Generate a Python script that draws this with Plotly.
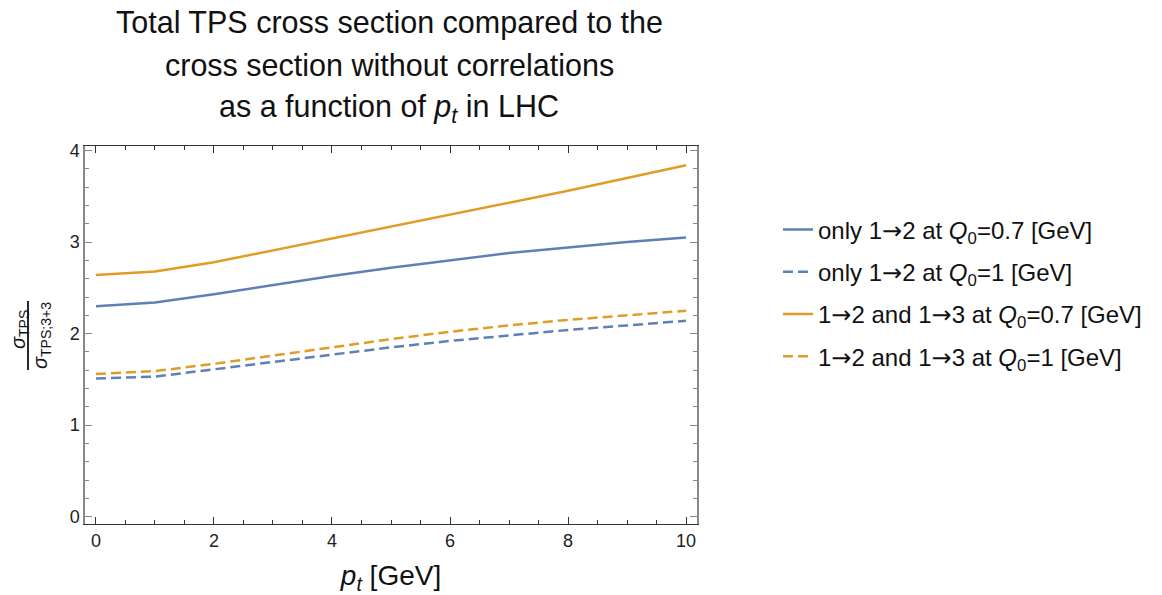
import plotly.graph_objects as go

pt = [0, 1, 2, 3, 4, 5, 6, 7, 8, 9, 10]
only12_q07 = [2.30, 2.34, 2.43, 2.53, 2.63, 2.72, 2.80, 2.88, 2.94, 3.00, 3.05]
only12_q1 = [1.51, 1.53, 1.61, 1.69, 1.77, 1.85, 1.92, 1.98, 2.04, 2.09, 2.14]
both_q07 = [2.64, 2.68, 2.78, 2.91, 3.04, 3.17, 3.30, 3.43, 3.56, 3.70, 3.84]
both_q1 = [1.56, 1.59, 1.67, 1.76, 1.85, 1.94, 2.02, 2.09, 2.15, 2.20, 2.25]

ARROW = '<span style="font-family:DejaVu Sans">→</span>'
names = [
    f"only 1{ARROW}2 at <i>Q</i><sub>0</sub>=0.7 [GeV]",
    f"only 1{ARROW}2 at <i>Q</i><sub>0</sub>=1 [GeV]",
    f"1{ARROW}2 and 1{ARROW}3 at <i>Q</i><sub>0</sub>=0.7 [GeV]",
    f"1{ARROW}2 and 1{ARROW}3 at <i>Q</i><sub>0</sub>=1 [GeV]",
]
series = [only12_q07, only12_q1, both_q07, both_q1]
BLUE = "#5E81B5"
ORANGE = "#E19C24"
colors = [BLUE, BLUE, ORANGE, ORANGE]
dashes = ["solid", "10px,5px", "solid", "10px,5px"]

FONT = "Liberation Sans, Arial, sans-serif"
W, H = 1162, 595
ML, MR, MT, MB = 85, 465, 146, 71
PW = W - ML - MR
PH = H - MT - MB


def px_x(px):
    return (px - ML) / PW


def px_y(py):
    return 1 - (py - MT) / PH


fig = go.Figure()
for i, (nm, ys, c, d) in enumerate(zip(names, series, colors, dashes)):
    fig.add_trace(go.Scatter(
        x=pt, y=ys, mode="lines", name=nm, legendgroup=f"g{i}",
        line=dict(color=c, width=2.5, dash=d),
    ))

annotations = []
title_lines = [
    ("Total TPS cross section compared to the", 22),
    ("cross section without correlations", 65),
    ("as a function of <i>p<sub>t</sub></i> in LHC", 108),
]
for txt, yy in title_lines:
    annotations.append(dict(
        text=txt, xref="paper", yref="paper", x=px_x(389), y=px_y(yy),
        xanchor="center", yanchor="middle", showarrow=False,
        font=dict(family=FONT, size=30.5, color="#111"),
    ))

annotations.append(dict(
    text="<i>σ</i><sub>TPS</sub>", xref="paper", yref="paper",
    x=px_x(19), y=px_y(330), xanchor="center", yanchor="middle",
    textangle=-90, showarrow=False, font=dict(family=FONT, size=20, color="#111"),
))
annotations.append(dict(
    text="<i>σ</i><sub>TPS;3+3</sub>", xref="paper", yref="paper",
    x=px_x(41), y=px_y(336), xanchor="center", yanchor="middle",
    textangle=-90, showarrow=False, font=dict(family=FONT, size=20, color="#111"),
))

shapes = [dict(
    type="line", xref="paper", yref="paper",
    x0=px_x(28), x1=px_x(28), y0=px_y(301), y1=px_y(370),
    line=dict(color="#111", width=1.8),
)]

fig.update_layout(
    width=W, height=H, autosize=False,
    margin=dict(l=ML, r=MR, t=MT, b=MB, autoexpand=False),
    paper_bgcolor="white", plot_bgcolor="white",
    font=dict(family=FONT, size=17, color="#222"),
    showlegend=True,
    legend=dict(
        x=px_x(778), y=px_y(293), xanchor="left", yanchor="middle",
        font=dict(family=FONT, size=24, color="#111"),
        tracegroupgap=8, bgcolor="rgba(0,0,0,0)",
    ),
    annotations=annotations,
    shapes=shapes,
)

fig.update_xaxes(
    range=[-0.186, 10.186], tickvals=[0, 2, 4, 6, 8, 10],
    ticks="inside", ticklen=7, tickcolor="#333", tickwidth=1,
    showline=True, linecolor="#333", linewidth=1.2, mirror="ticks",
    showgrid=False, zeroline=False,
    minor=dict(dtick=0.5, tick0=0, ticks="inside", ticklen=4, tickcolor="#333", showgrid=False),
    tickfont=dict(family=FONT, size=18, color="#222"),
    title=dict(text="<i>p<sub>t</sub></i> [GeV]", font=dict(family=FONT, size=28, color="#111"), standoff=16),
)
fig.update_yaxes(
    range=[-0.08, 4.05], tickvals=[0, 1, 2, 3, 4],
    ticks="inside", ticklen=7, tickcolor="#888", tickwidth=1,
    showline=True, linecolor="#888", linewidth=1.5, mirror="ticks",
    showgrid=False, zeroline=False,
    minor=dict(dtick=0.2, tick0=0, ticks="inside", ticklen=4, tickcolor="#888", showgrid=False),
    tickfont=dict(family=FONT, size=18, color="#222"),
)

fig.write_html("out.html")
